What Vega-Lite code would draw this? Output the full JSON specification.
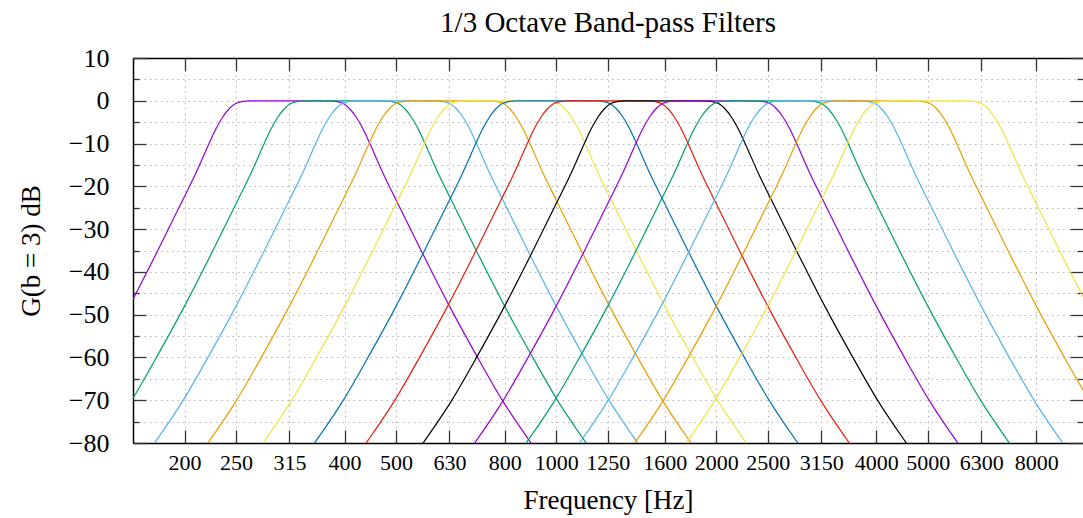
{
"$schema": "https://vega.github.io/schema/vega-lite/v6.json",
"width": 950, "height": 385,
"autosize": "none",
"padding": {"left": 133, "top": 58, "right": 0, "bottom": 75},
"background": "white",
"config": {"view": {"stroke": null}, "font": "Liberation Serif"},
"title": {"text": "1/3 Octave Band-pass Filters", "font": "Liberation Serif", "fontSize": 29, "fontWeight": "normal", "color": "black", "anchor": "middle", "baseline": "alphabetic", "offset": -16},
"datasets": {"curves": [
{"c":1,"f":125.01,"g":-70.2},{"c":1,"f":140.32,"g":-59.4},{"c":1,"f":157.5,"g":-48},{"c":1,"f":176.79,"g":-35.8},{"c":1,"f":198.44,"g":-23.2},{"c":1,"f":210.24,"g":-16.8},{"c":1,"f":222.74,"g":-9.8},{"c":1,"f":229.27,"g":-6.5},{"c":1,"f":235.98,"g":-3.8},{"c":1,"f":242.9,"g":-1.8},{"c":1,"f":250.02,"g":-0.6},{"c":1,"f":257.34,"g":-0.15},{"c":1,"f":264.88,"g":0},{"c":1,"f":374.6,"g":0},{"c":1,"f":385.58,"g":-0.15},{"c":1,"f":396.88,"g":-0.6},{"c":1,"f":408.5,"g":-1.8},{"c":1,"f":420.47,"g":-3.8},{"c":1,"f":432.8,"g":-6.5},{"c":1,"f":445.48,"g":-9.8},{"c":1,"f":471.97,"g":-16.8},{"c":1,"f":500.03,"g":-23.2},{"c":1,"f":561.27,"g":-35.8},{"c":1,"f":630,"g":-48},{"c":1,"f":707.15,"g":-59.4},{"c":1,"f":793.75,"g":-70.2},{"c":1,"f":890.95,"g":-79.5},{"c":1,"f":943.93,"g":-83.9},
{"c":2,"f":133.48,"g":-83.9},{"c":2,"f":141.42,"g":-79.5},{"c":2,"f":158.74,"g":-70.2},{"c":2,"f":178.18,"g":-59.4},{"c":2,"f":200,"g":-48},{"c":2,"f":224.49,"g":-35.8},{"c":2,"f":251.98,"g":-23.2},{"c":2,"f":266.97,"g":-16.8},{"c":2,"f":282.84,"g":-9.8},{"c":2,"f":291.13,"g":-6.5},{"c":2,"f":299.66,"g":-3.8},{"c":2,"f":308.44,"g":-1.8},{"c":2,"f":317.48,"g":-0.6},{"c":2,"f":326.79,"g":-0.15},{"c":2,"f":336.36,"g":0},{"c":2,"f":475.68,"g":0},{"c":2,"f":489.62,"g":-0.15},{"c":2,"f":503.97,"g":-0.6},{"c":2,"f":518.74,"g":-1.8},{"c":2,"f":533.94,"g":-3.8},{"c":2,"f":549.58,"g":-6.5},{"c":2,"f":565.69,"g":-9.8},{"c":2,"f":599.32,"g":-16.8},{"c":2,"f":634.96,"g":-23.2},{"c":2,"f":712.72,"g":-35.8},{"c":2,"f":800,"g":-48},{"c":2,"f":897.97,"g":-59.4},{"c":2,"f":1007.94,"g":-70.2},{"c":2,"f":1131.37,"g":-79.5},{"c":2,"f":1198.65,"g":-83.9},
{"c":3,"f":166.86,"g":-83.9},{"c":3,"f":176.78,"g":-79.5},{"c":3,"f":198.43,"g":-70.2},{"c":3,"f":222.72,"g":-59.4},{"c":3,"f":250,"g":-48},{"c":3,"f":280.62,"g":-35.8},{"c":3,"f":314.98,"g":-23.2},{"c":3,"f":333.71,"g":-16.8},{"c":3,"f":353.55,"g":-9.8},{"c":3,"f":363.91,"g":-6.5},{"c":3,"f":374.58,"g":-3.8},{"c":3,"f":385.55,"g":-1.8},{"c":3,"f":396.85,"g":-0.6},{"c":3,"f":408.48,"g":-0.15},{"c":3,"f":420.45,"g":0},{"c":3,"f":594.6,"g":0},{"c":3,"f":612.03,"g":-0.15},{"c":3,"f":629.96,"g":-0.6},{"c":3,"f":648.42,"g":-1.8},{"c":3,"f":667.42,"g":-3.8},{"c":3,"f":686.98,"g":-6.5},{"c":3,"f":707.11,"g":-9.8},{"c":3,"f":749.15,"g":-16.8},{"c":3,"f":793.7,"g":-23.2},{"c":3,"f":890.9,"g":-35.8},{"c":3,"f":1000,"g":-48},{"c":3,"f":1122.46,"g":-59.4},{"c":3,"f":1259.92,"g":-70.2},{"c":3,"f":1414.21,"g":-79.5},{"c":3,"f":1498.31,"g":-83.9},
{"c":4,"f":210.24,"g":-83.9},{"c":4,"f":222.74,"g":-79.5},{"c":4,"f":250.02,"g":-70.2},{"c":4,"f":280.63,"g":-59.4},{"c":4,"f":315,"g":-48},{"c":4,"f":353.58,"g":-35.8},{"c":4,"f":396.88,"g":-23.2},{"c":4,"f":420.47,"g":-16.8},{"c":4,"f":445.48,"g":-9.8},{"c":4,"f":458.53,"g":-6.5},{"c":4,"f":471.97,"g":-3.8},{"c":4,"f":485.8,"g":-1.8},{"c":4,"f":500.03,"g":-0.6},{"c":4,"f":514.69,"g":-0.15},{"c":4,"f":529.76,"g":0},{"c":4,"f":749.2,"g":0},{"c":4,"f":771.15,"g":-0.15},{"c":4,"f":793.75,"g":-0.6},{"c":4,"f":817.01,"g":-1.8},{"c":4,"f":840.95,"g":-3.8},{"c":4,"f":865.59,"g":-6.5},{"c":4,"f":890.95,"g":-9.8},{"c":4,"f":943.93,"g":-16.8},{"c":4,"f":1000.06,"g":-23.2},{"c":4,"f":1122.53,"g":-35.8},{"c":4,"f":1260,"g":-48},{"c":4,"f":1414.3,"g":-59.4},{"c":4,"f":1587.5,"g":-70.2},{"c":4,"f":1781.91,"g":-79.5},{"c":4,"f":1887.87,"g":-83.9},
{"c":5,"f":266.97,"g":-83.9},{"c":5,"f":282.84,"g":-79.5},{"c":5,"f":317.48,"g":-70.2},{"c":5,"f":356.36,"g":-59.4},{"c":5,"f":400,"g":-48},{"c":5,"f":448.98,"g":-35.8},{"c":5,"f":503.97,"g":-23.2},{"c":5,"f":533.94,"g":-16.8},{"c":5,"f":565.69,"g":-9.8},{"c":5,"f":582.26,"g":-6.5},{"c":5,"f":599.32,"g":-3.8},{"c":5,"f":616.88,"g":-1.8},{"c":5,"f":634.96,"g":-0.6},{"c":5,"f":653.57,"g":-0.15},{"c":5,"f":672.72,"g":0},{"c":5,"f":951.37,"g":0},{"c":5,"f":979.24,"g":-0.15},{"c":5,"f":1007.94,"g":-0.6},{"c":5,"f":1037.47,"g":-1.8},{"c":5,"f":1067.87,"g":-3.8},{"c":5,"f":1099.16,"g":-6.5},{"c":5,"f":1131.37,"g":-9.8},{"c":5,"f":1198.65,"g":-16.8},{"c":5,"f":1269.92,"g":-23.2},{"c":5,"f":1425.44,"g":-35.8},{"c":5,"f":1600,"g":-48},{"c":5,"f":1795.94,"g":-59.4},{"c":5,"f":2015.87,"g":-70.2},{"c":5,"f":2262.74,"g":-79.5},{"c":5,"f":2397.29,"g":-83.9},
{"c":6,"f":333.71,"g":-83.9},{"c":6,"f":353.55,"g":-79.5},{"c":6,"f":396.85,"g":-70.2},{"c":6,"f":445.45,"g":-59.4},{"c":6,"f":500,"g":-48},{"c":6,"f":561.23,"g":-35.8},{"c":6,"f":629.96,"g":-23.2},{"c":6,"f":667.42,"g":-16.8},{"c":6,"f":707.11,"g":-9.8},{"c":6,"f":727.83,"g":-6.5},{"c":6,"f":749.15,"g":-3.8},{"c":6,"f":771.11,"g":-1.8},{"c":6,"f":793.7,"g":-0.6},{"c":6,"f":816.97,"g":-0.15},{"c":6,"f":840.9,"g":0},{"c":6,"f":1189.21,"g":0},{"c":6,"f":1224.05,"g":-0.15},{"c":6,"f":1259.92,"g":-0.6},{"c":6,"f":1296.84,"g":-1.8},{"c":6,"f":1334.84,"g":-3.8},{"c":6,"f":1373.95,"g":-6.5},{"c":6,"f":1414.21,"g":-9.8},{"c":6,"f":1498.31,"g":-16.8},{"c":6,"f":1587.4,"g":-23.2},{"c":6,"f":1781.8,"g":-35.8},{"c":6,"f":2000,"g":-48},{"c":6,"f":2244.92,"g":-59.4},{"c":6,"f":2519.84,"g":-70.2},{"c":6,"f":2828.43,"g":-79.5},{"c":6,"f":2996.61,"g":-83.9},
{"c":7,"f":417.14,"g":-83.9},{"c":7,"f":441.94,"g":-79.5},{"c":7,"f":496.06,"g":-70.2},{"c":7,"f":556.81,"g":-59.4},{"c":7,"f":625,"g":-48},{"c":7,"f":701.54,"g":-35.8},{"c":7,"f":787.45,"g":-23.2},{"c":7,"f":834.28,"g":-16.8},{"c":7,"f":883.88,"g":-9.8},{"c":7,"f":909.79,"g":-6.5},{"c":7,"f":936.44,"g":-3.8},{"c":7,"f":963.88,"g":-1.8},{"c":7,"f":992.13,"g":-0.6},{"c":7,"f":1021.21,"g":-0.15},{"c":7,"f":1051.12,"g":0},{"c":7,"f":1486.51,"g":0},{"c":7,"f":1530.07,"g":-0.15},{"c":7,"f":1574.9,"g":-0.6},{"c":7,"f":1621.05,"g":-1.8},{"c":7,"f":1668.55,"g":-3.8},{"c":7,"f":1717.44,"g":-6.5},{"c":7,"f":1767.77,"g":-9.8},{"c":7,"f":1872.88,"g":-16.8},{"c":7,"f":1984.25,"g":-23.2},{"c":7,"f":2227.25,"g":-35.8},{"c":7,"f":2500,"g":-48},{"c":7,"f":2806.16,"g":-59.4},{"c":7,"f":3149.8,"g":-70.2},{"c":7,"f":3535.53,"g":-79.5},{"c":7,"f":3745.77,"g":-83.9},
{"c":8,"f":533.94,"g":-83.9},{"c":8,"f":565.68,"g":-79.5},{"c":8,"f":634.96,"g":-70.2},{"c":8,"f":712.72,"g":-59.4},{"c":8,"f":800,"g":-48},{"c":8,"f":897.97,"g":-35.8},{"c":8,"f":1007.94,"g":-23.2},{"c":8,"f":1067.87,"g":-16.8},{"c":8,"f":1131.37,"g":-9.8},{"c":8,"f":1164.52,"g":-6.5},{"c":8,"f":1198.65,"g":-3.8},{"c":8,"f":1233.77,"g":-1.8},{"c":8,"f":1269.92,"g":-0.6},{"c":8,"f":1307.15,"g":-0.15},{"c":8,"f":1345.43,"g":0},{"c":8,"f":1902.73,"g":0},{"c":8,"f":1958.49,"g":-0.15},{"c":8,"f":2015.87,"g":-0.6},{"c":8,"f":2074.94,"g":-1.8},{"c":8,"f":2135.74,"g":-3.8},{"c":8,"f":2198.33,"g":-6.5},{"c":8,"f":2262.74,"g":-9.8},{"c":8,"f":2397.29,"g":-16.8},{"c":8,"f":2539.84,"g":-23.2},{"c":8,"f":2850.88,"g":-35.8},{"c":8,"f":3200,"g":-48},{"c":8,"f":3591.88,"g":-59.4},{"c":8,"f":4031.75,"g":-70.2},{"c":8,"f":4525.48,"g":-79.5},{"c":8,"f":4794.58,"g":-83.9},
{"c":9,"f":667.42,"g":-83.9},{"c":9,"f":707.11,"g":-79.5},{"c":9,"f":793.7,"g":-70.2},{"c":9,"f":890.9,"g":-59.4},{"c":9,"f":1000,"g":-48},{"c":9,"f":1122.46,"g":-35.8},{"c":9,"f":1259.92,"g":-23.2},{"c":9,"f":1334.84,"g":-16.8},{"c":9,"f":1414.21,"g":-9.8},{"c":9,"f":1455.66,"g":-6.5},{"c":9,"f":1498.31,"g":-3.8},{"c":9,"f":1542.21,"g":-1.8},{"c":9,"f":1587.4,"g":-0.6},{"c":9,"f":1633.94,"g":-0.15},{"c":9,"f":1681.79,"g":0},{"c":9,"f":2378.41,"g":0},{"c":9,"f":2448.11,"g":-0.15},{"c":9,"f":2519.84,"g":-0.6},{"c":9,"f":2593.68,"g":-1.8},{"c":9,"f":2669.68,"g":-3.8},{"c":9,"f":2747.91,"g":-6.5},{"c":9,"f":2828.43,"g":-9.8},{"c":9,"f":2996.61,"g":-16.8},{"c":9,"f":3174.8,"g":-23.2},{"c":9,"f":3563.59,"g":-35.8},{"c":9,"f":4000,"g":-48},{"c":9,"f":4489.85,"g":-59.4},{"c":9,"f":5039.68,"g":-70.2},{"c":9,"f":5656.85,"g":-79.5},{"c":9,"f":5993.23,"g":-83.9},
{"c":10,"f":834.28,"g":-83.9},{"c":10,"f":883.88,"g":-79.5},{"c":10,"f":992.13,"g":-70.2},{"c":10,"f":1113.62,"g":-59.4},{"c":10,"f":1250,"g":-48},{"c":10,"f":1403.08,"g":-35.8},{"c":10,"f":1574.9,"g":-23.2},{"c":10,"f":1668.55,"g":-16.8},{"c":10,"f":1767.77,"g":-9.8},{"c":10,"f":1819.57,"g":-6.5},{"c":10,"f":1872.89,"g":-3.8},{"c":10,"f":1927.76,"g":-1.8},{"c":10,"f":1984.25,"g":-0.6},{"c":10,"f":2042.42,"g":-0.15},{"c":10,"f":2102.24,"g":0},{"c":10,"f":2973.02,"g":0},{"c":10,"f":3060.14,"g":-0.15},{"c":10,"f":3149.8,"g":-0.6},{"c":10,"f":3242.1,"g":-1.8},{"c":10,"f":3337.1,"g":-3.8},{"c":10,"f":3434.89,"g":-6.5},{"c":10,"f":3535.54,"g":-9.8},{"c":10,"f":3745.77,"g":-16.8},{"c":10,"f":3968.5,"g":-23.2},{"c":10,"f":4454.49,"g":-35.8},{"c":10,"f":5000,"g":-48},{"c":10,"f":5612.31,"g":-59.4},{"c":10,"f":6299.61,"g":-70.2},{"c":10,"f":7071.07,"g":-79.5},{"c":10,"f":7491.54,"g":-83.9},
{"c":11,"f":1051.19,"g":-83.9},{"c":11,"f":1113.69,"g":-79.5},{"c":11,"f":1250.08,"g":-70.2},{"c":11,"f":1403.16,"g":-59.4},{"c":11,"f":1575,"g":-48},{"c":11,"f":1767.88,"g":-35.8},{"c":11,"f":1984.38,"g":-23.2},{"c":11,"f":2102.37,"g":-16.8},{"c":11,"f":2227.39,"g":-9.8},{"c":11,"f":2292.66,"g":-6.5},{"c":11,"f":2359.84,"g":-3.8},{"c":11,"f":2428.98,"g":-1.8},{"c":11,"f":2500.16,"g":-0.6},{"c":11,"f":2573.45,"g":-0.15},{"c":11,"f":2648.82,"g":0},{"c":11,"f":3746,"g":0},{"c":11,"f":3855.77,"g":-0.15},{"c":11,"f":3968.75,"g":-0.6},{"c":11,"f":4085.05,"g":-1.8},{"c":11,"f":4204.75,"g":-3.8},{"c":11,"f":4327.96,"g":-6.5},{"c":11,"f":4454.77,"g":-9.8},{"c":11,"f":4719.67,"g":-16.8},{"c":11,"f":5000.31,"g":-23.2},{"c":11,"f":5612.66,"g":-35.8},{"c":11,"f":6300,"g":-48},{"c":11,"f":7071.51,"g":-59.4},{"c":11,"f":7937.5,"g":-70.2},{"c":11,"f":8909.55,"g":-79.5},{"c":11,"f":9439.33,"g":-83.9},
{"c":12,"f":1334.84,"g":-83.9},{"c":12,"f":1414.21,"g":-79.5},{"c":12,"f":1587.4,"g":-70.2},{"c":12,"f":1781.8,"g":-59.4},{"c":12,"f":2000,"g":-48},{"c":12,"f":2244.92,"g":-35.8},{"c":12,"f":2519.84,"g":-23.2},{"c":12,"f":2669.68,"g":-16.8},{"c":12,"f":2828.43,"g":-9.8},{"c":12,"f":2911.31,"g":-6.5},{"c":12,"f":2996.62,"g":-3.8},{"c":12,"f":3084.42,"g":-1.8},{"c":12,"f":3174.8,"g":-0.6},{"c":12,"f":3267.87,"g":-0.15},{"c":12,"f":3363.58,"g":0},{"c":12,"f":4756.83,"g":0},{"c":12,"f":4896.22,"g":-0.15},{"c":12,"f":5039.68,"g":-0.6},{"c":12,"f":5187.36,"g":-1.8},{"c":12,"f":5339.36,"g":-3.8},{"c":12,"f":5495.82,"g":-6.5},{"c":12,"f":5656.86,"g":-9.8},{"c":12,"f":5993.23,"g":-16.8},{"c":12,"f":6349.6,"g":-23.2},{"c":12,"f":7127.19,"g":-35.8},{"c":12,"f":8000,"g":-48},{"c":12,"f":8979.7,"g":-59.4},{"c":12,"f":10079.37,"g":-70.2},{"c":12,"f":11313.71,"g":-79.5},
{"c":13,"f":1668.55,"g":-83.9},{"c":13,"f":1767.77,"g":-79.5},{"c":13,"f":1984.25,"g":-70.2},{"c":13,"f":2227.25,"g":-59.4},{"c":13,"f":2500,"g":-48},{"c":13,"f":2806.16,"g":-35.8},{"c":13,"f":3149.81,"g":-23.2},{"c":13,"f":3337.1,"g":-16.8},{"c":13,"f":3535.54,"g":-9.8},{"c":13,"f":3639.14,"g":-6.5},{"c":13,"f":3745.77,"g":-3.8},{"c":13,"f":3855.53,"g":-1.8},{"c":13,"f":3968.51,"g":-0.6},{"c":13,"f":4084.84,"g":-0.15},{"c":13,"f":4204.48,"g":0},{"c":13,"f":5946.04,"g":0},{"c":13,"f":6120.27,"g":-0.15},{"c":13,"f":6299.61,"g":-0.6},{"c":13,"f":6484.2,"g":-1.8},{"c":13,"f":6674.2,"g":-3.8},{"c":13,"f":6869.77,"g":-6.5},{"c":13,"f":7071.07,"g":-9.8},{"c":13,"f":7491.54,"g":-16.8},{"c":13,"f":7937.01,"g":-23.2},{"c":13,"f":8908.99,"g":-35.8},{"c":13,"f":10000,"g":-48},{"c":13,"f":11224.62,"g":-59.4}
]},
"layer": [
{
"data": {"name": "curves"},
"mark": {"type": "line", "interpolate": "monotone", "clip": true, "strokeWidth": 1.2},
"encoding": {
"x": {"field": "f", "type": "quantitative", "scale": {"type": "log", "domain": [160, 9790], "nice": false},
"axis": {"orient": "bottom", "values": [200,250,315,400,500,630,800,1000,1250,1600,2000,2500,3150,4000,5000,6300,8000], "format": "d",
"tickSize": -13, "tickColor": "#333333", "tickWidth": 1.3, "domainColor": "black", "domainWidth": 1.5,
"labelFont": "Liberation Serif", "labelFontSize": 22, "labelColor": "black", "labelPadding": 22, "labelFlush": false, "labelOverlap": false,
"grid": true, "gridColor": "#b4b4b4", "gridDash": [1.5, 4], "gridWidth": 1,
"title": "Frequency [Hz]", "titleFont": "Liberation Serif", "titleFontSize": 27, "titleFontWeight": "normal", "titleColor": "black",
"titleX": 475, "titleY": 65, "titleBaseline": "alphabetic", "titleAlign": "center", "titleAngle": 0}},
"y": {"field": "g", "type": "quantitative", "scale": {"domain": [-80, 10], "nice": false, "zero": false},
"axis": {"orient": "left", "values": [-80,-70,-60,-50,-40,-30,-20,-10,0,10], "format": "d",
"tickSize": -13, "tickColor": "#333333", "tickWidth": 1.3, "domainColor": "black", "domainWidth": 1.5,
"labelFont": "Liberation Serif", "labelFontSize": 26, "labelColor": "black", "labelPadding": 37, "labelFlush": false, "labelOverlap": false,
"grid": true, "gridColor": "#b4b4b4", "gridDash": [1.5, 4], "gridWidth": 1,
"title": "G(b = 3) dB", "titleFont": "Liberation Serif", "titleFontSize": 27, "titleFontWeight": "normal", "titleColor": "black",
"titleX": -94, "titleY": 192.5, "titleBaseline": "alphabetic", "titleAlign": "center", "titleAngle": 270}},
"color": {"field": "c", "type": "nominal", "scale": {"domain": [1,2,3,4,5,6,7,8,9,10,11,12,13], "range": ["#9400d3","#009e73","#56b4e9","#e69f00","#f0e442","#0072b2","#e51e10","#000000","#9400d3","#009e73","#56b4e9","#e69f00","#f0e442"]}, "legend": null}
}
},
{
"data": {"values": [{"f": 1000, "g": 0}]},
"mark": {"type": "point", "opacity": 0},
"encoding": {
"x": {"field": "f", "type": "quantitative", "scale": {"type": "log", "domain": [160, 9790], "nice": false},
"axis": {"orient": "top", "values": [200,250,315,400,500,630,800,1000,1250,1600,2000,2500,3150,4000,5000,6300,8000],
"tickSize": -13, "tickColor": "#333333", "tickWidth": 1.3, "domainColor": "black", "domainWidth": 1.5, "labels": false, "grid": false, "title": null}},
"y": {"field": "g", "type": "quantitative", "scale": {"domain": [-80, 10], "nice": false, "zero": false},
"axis": {"orient": "right", "values": [-80,-70,-60,-50,-40,-30,-20,-10,0,10],
"tickSize": -13, "tickColor": "#333333", "tickWidth": 1.3, "domain": false, "labels": false, "grid": false, "title": null}}
}
},
{
"data": {"values": [{"f": 1000, "g": 0}]},
"mark": {"type": "point", "opacity": 0},
"encoding": {
"x": {"field": "f", "type": "quantitative", "scale": {"type": "log", "domain": [160, 9790], "nice": false}, "axis": null},
"y": {"field": "g", "type": "quantitative", "scale": {"domain": [-80, 10], "nice": false, "zero": false},
"axis": {"orient": "left", "values": [-75,-65,-55,-45,-35,-25,-15,-5,5],
"tickSize": -6, "tickColor": "#333333", "tickWidth": 1.3, "domain": false, "labels": false,
"grid": true, "gridColor": "#b4b4b4", "gridDash": [1.5, 4], "gridWidth": 1, "title": null}}
}
},
{
"data": {"values": [{"f": 1000, "g": 0}]},
"mark": {"type": "point", "opacity": 0},
"encoding": {
"x": {"field": "f", "type": "quantitative", "scale": {"type": "log", "domain": [160, 9790], "nice": false}, "axis": null},
"y": {"field": "g", "type": "quantitative", "scale": {"domain": [-80, 10], "nice": false, "zero": false},
"axis": {"orient": "right", "values": [-75,-65,-55,-45,-35,-25,-15,-5,5],
"tickSize": -6, "tickColor": "#333333", "tickWidth": 1.3, "domain": false, "labels": false, "grid": false, "title": null}}
}
}
],
"resolve": {"axis": {"x": "independent", "y": "independent"}}
}
